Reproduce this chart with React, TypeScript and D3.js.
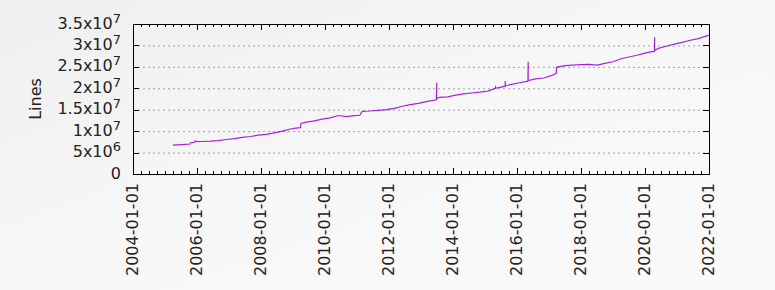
import React from "react";
import * as d3 from "d3";

// ---- data ----
const dates: string[] = [
  "2005-04-01", "2005-06-01", "2005-08-15", "2005-10-15", "2005-10-20", "2005-12-05", "2005-12-10", "2006-01-05",
  "2006-03-01", "2006-06-01", "2006-09-01", "2006-12-01", "2007-03-01", "2007-06-01", "2007-09-01", "2007-12-01",
  "2008-03-01", "2008-06-01", "2008-09-01", "2008-12-01", "2009-02-01", "2009-03-25", "2009-04-01", "2009-06-01",
  "2009-09-01", "2009-12-01", "2010-03-01", "2010-06-01", "2010-09-01", "2010-12-01", "2011-02-01", "2011-03-01",
  "2011-06-01", "2011-09-01", "2011-12-01", "2012-03-01", "2012-06-01", "2012-09-01", "2012-12-01", "2013-03-01",
  "2013-06-25", "2013-06-28", "2013-06-28", "2013-08-01", "2013-11-01", "2014-02-01", "2014-05-01", "2014-08-01",
  "2014-11-01", "2015-02-01", "2015-05-01", "2015-05-01", "2015-05-01", "2015-08-20", "2015-08-20", "2015-08-20",
  "2015-11-01", "2016-02-01", "2016-05-05", "2016-05-08", "2016-05-08", "2016-08-01", "2016-11-01", "2017-02-01",
  "2017-03-25", "2017-03-28", "2017-03-28", "2017-04-15", "2017-07-01", "2017-10-01", "2018-01-01", "2018-04-01",
  "2018-07-01", "2018-10-01", "2019-01-01", "2019-04-01", "2019-07-01", "2019-10-01", "2020-01-01", "2020-03-01",
  "2020-04-18", "2020-04-20", "2020-04-20", "2020-06-01", "2020-09-01", "2020-12-01", "2021-03-01", "2021-06-01",
  "2021-09-01", "2021-12-31",
];
const lines: number[] = [
  6.72e6, 6.8e6, 6.9e6, 7.0e6, 7.3e6, 7.4e6, 7.7e6, 7.55e6,
  7.58e6, 7.65e6, 7.8e6, 8.05e6, 8.25e6, 8.55e6, 8.75e6, 9.05e6,
  9.25e6, 9.6e6, 1.0e7, 1.05e7, 1.07e7, 1.08e7, 1.18e7, 1.21e7,
  1.24e7, 1.28e7, 1.31e7, 1.365e7, 1.34e7, 1.36e7, 1.37e7, 1.46e7,
  1.47e7, 1.485e7, 1.5e7, 1.53e7, 1.58e7, 1.62e7, 1.65e7, 1.69e7,
  1.73e7, 2.13e7, 1.76e7, 1.79e7, 1.8e7, 1.84e7, 1.87e7, 1.89e7,
  1.91e7, 1.935e7, 2.0e7, 2.06e7, 2.0e7, 2.05e7, 2.17e7, 2.06e7,
  2.09e7, 2.13e7, 2.165e7, 2.62e7, 2.18e7, 2.22e7, 2.24e7, 2.3e7,
  2.35e7, 2.51e7, 2.48e7, 2.5e7, 2.53e7, 2.54e7, 2.55e7, 2.56e7,
  2.54e7, 2.58e7, 2.62e7, 2.69e7, 2.73e7, 2.77e7, 2.82e7, 2.85e7,
  2.86e7, 3.19e7, 2.88e7, 2.93e7, 2.98e7, 3.03e7, 3.07e7, 3.12e7,
  3.16e7, 3.24e7,
];
const yTicks: number[] = [0, 5e6, 1e7, 1.5e7, 2e7, 2.5e7, 3e7, 3.5e7];
const xTickLabels: string[] = [
  "2004-01-01", "2006-01-01", "2008-01-01", "2010-01-01", "2012-01-01",
  "2014-01-01", "2016-01-01", "2018-01-01", "2020-01-01", "2022-01-01",
];
const yLabel = "Lines";

const W = 775;
const H = 290;
const M = { left: 133, right: 709, top: 24, bottom: 174 };
const FONT = "DejaVu Sans";
const FS = 16;

function yTickParts(v: number): [string, string] {
  if (v === 0) return ["0", ""];
  const e = Math.floor(Math.log10(v));
  const m = +(v / Math.pow(10, e)).toFixed(2);
  return [`${m}x10`, `${e}`];
}

export default function App() {
  const parse = d3.timeParse("%Y-%m-%d");
  const x = d3
    .scaleTime()
    .domain([parse("2004-01-01")!, parse("2022-01-01")!])
    .range([M.left, M.right]);
  const y = d3.scaleLinear().domain([0, 3.5e7]).range([M.bottom, M.top]);

  const pts = dates.map((d, i) => [parse(d)!, lines[i]] as [Date, number]);
  const path = d3
    .line<[Date, number]>()
    .x((d) => x(d[0]))
    .y((d) => y(d[1]))(pts)!;

  const majorX = xTickLabels.map((s) => parse(s)!);
  const minorX = d3.timeMonth.every(3)!.range(x.domain()[0], x.domain()[1]);

  return (
    <svg
      width={W}
      height={H}
      style={{ position: "absolute", left: 0, top: 0 }}
      fontFamily={FONT}
      fontSize={FS}
    >
      <defs>
        <linearGradient id="bg" x1="0" y1="0" x2="1" y2="1">
          <stop offset="0" stopColor="#efefef" />
          <stop offset="0.5" stopColor="#f7f7f7" />
          <stop offset="1" stopColor="#fafafa" />
        </linearGradient>
      </defs>
      <rect x={0} y={0} width={W} height={H} fill="url(#bg)" />

      {/* grid */}
      {yTicks
        .filter((v) => v > 0 && v < 3.5e7)
        .map((v) => (
          <line
            key={"g" + v}
            x1={M.left}
            x2={M.right}
            y1={y(v) + 0.5}
            y2={y(v) + 0.5}
            stroke="#a0a0a0"
            strokeWidth={1}
            strokeDasharray="2,3"
          />
        ))}

      {/* minor x ticks */}
      {minorX.map((d, i) => {
        const xx = Math.round(x(d)) + 0.5;
        return (
          <g key={"mx" + i} stroke="#000" strokeWidth={1}>
            <line x1={xx} x2={xx} y1={M.bottom} y2={M.bottom - 3} />
            <line x1={xx} x2={xx} y1={M.top} y2={M.top + 3} />
          </g>
        );
      })}
      {/* major x ticks */}
      {majorX.map((d, i) => {
        const xx = Math.round(x(d)) + 0.5;
        return (
          <g key={"Mx" + i} stroke="#000" strokeWidth={1}>
            <line x1={xx} x2={xx} y1={M.bottom} y2={M.bottom - 6} />
            <line x1={xx} x2={xx} y1={M.top} y2={M.top + 6} />
          </g>
        );
      })}
      {/* y ticks */}
      {yTicks.map((v) => {
        const yy = Math.round(y(v)) + 0.5;
        return (
          <g key={"yt" + v} stroke="#000" strokeWidth={1}>
            <line x1={M.left} x2={M.left + 6} y1={yy} y2={yy} />
            <line x1={M.right} x2={M.right - 6} y1={yy} y2={yy} />
          </g>
        );
      })}

      {/* data line */}
      <path d={path} fill="none" stroke="#9400d3" strokeWidth={1.2} strokeOpacity={0.85} />

      {/* border */}
      <rect
        x={M.left + 0.5}
        y={M.top + 0.5}
        width={M.right - M.left}
        height={M.bottom - M.top}
        fill="none"
        stroke="#000"
        strokeWidth={1}
      />

      {/* y tick labels */}
      {yTicks.map((v) => {
        const [base, sup] = yTickParts(v);
        return (
          <text key={"yl" + v} x={121} y={y(v) + 4.5} textAnchor="end" fill="#222">
            {base}
            {sup && (
              <tspan dy={-6} fontSize={13}>
                {sup}
              </tspan>
            )}
          </text>
        );
      })}

      {/* x tick labels */}
      {majorX.map((d, i) => (
        <text
          key={"xl" + i}
          transform={`translate(${x(d) + 5},${M.bottom + 9}) rotate(-90)`}
          textAnchor="end"
          fill="#222"
        >
          {xTickLabels[i]}
        </text>
      ))}

      {/* y axis label */}
      <text
        transform={`translate(${41},${(M.top + M.bottom) / 2}) rotate(-90)`}
        textAnchor="middle"
        fill="#222"
      >
        {yLabel}
      </text>
    </svg>
  );
}
